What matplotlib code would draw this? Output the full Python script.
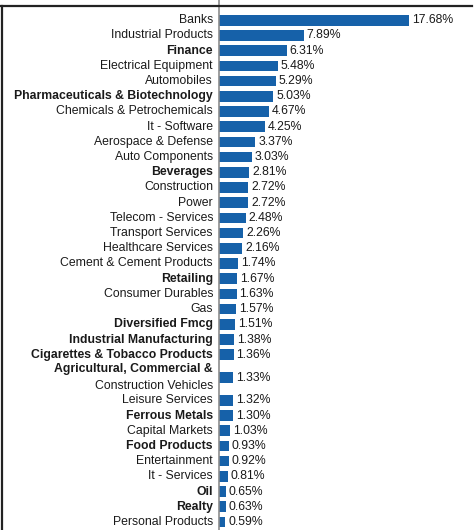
import numpy as np
import matplotlib.pyplot as plt
from matplotlib.lines import Line2D
from matplotlib.transforms import offset_copy

sectors = [
    "Banks", "Industrial Products", "Finance", "Electrical Equipment",
    "Automobiles", "Pharmaceuticals & Biotechnology",
    "Chemicals & Petrochemicals", "It - Software", "Aerospace & Defense",
    "Auto Components", "Beverages", "Construction", "Power",
    "Telecom - Services", "Transport Services", "Healthcare Services",
    "Cement & Cement Products", "Retailing", "Consumer Durables", "Gas",
    "Diversified Fmcg", "Industrial Manufacturing",
    "Cigarettes & Tobacco Products",
    "Agricultural, Commercial &\nConstruction Vehicles",
    "Leisure Services", "Ferrous Metals", "Capital Markets", "Food Products",
    "Entertainment", "It - Services", "Oil", "Realty", "Personal Products",
]
weights = [
    17.68, 7.89, 6.31, 5.48, 5.29, 5.03, 4.67, 4.25, 3.37, 3.03, 2.81,
    2.72, 2.72, 2.48, 2.26, 2.16, 1.74, 1.67, 1.63, 1.57, 1.51, 1.38,
    1.36, 1.33, 1.32, 1.30, 1.03, 0.93, 0.92, 0.81, 0.65, 0.63, 0.59,
]
bold = [
    False, False, True, False, False, True, False, False, False, False, True,
    False, False, False, False, False, False, True, False, False, True, True,
    True, True, False, True, False, True, False, False, True, True, False,
]

W, H = 474, 530
BLUE = "#1661a9"
TXT = "#1a1a1a"
FS = 8.8

plt.rcParams["font.family"] = ["Liberation Sans", "DejaVu Sans"]

# two-line labels get a double-height row
rows = [1 if s.count("\n") == 0 else 2 for s in sectors]
edges = np.concatenate([[0], np.cumsum(rows)])
pos = edges[:-1] + np.array(rows) / 2 - 0.5

fig = plt.figure(figsize=(W / 100, H / 100), dpi=100)
left_px = 219
ax = fig.add_axes([left_px / W, 0, 1 - left_px / W, 1])

pitch = 15.2
top_px = 20.3
ax.set_ylim((H - top_px) / pitch, -top_px / pitch)
ax.set_xlim(0, max(weights) * (W - left_px) / 190)

ax.barh(pos, weights, height=0.69, color=BLUE)

for s in ["top", "right", "bottom"]:
    ax.spines[s].set_visible(False)
ax.spines["left"].set_color("#8c8c8c")
ax.spines["left"].set_linewidth(1.2)
ax.set_xticks([])
ax.set_yticks([])

lab_tr = offset_copy(ax.transData, fig=fig, x=-6, y=0, units="dots")
val_tr = offset_copy(ax.transData, fig=fig, x=3, y=0, units="dots")
for p, s, w, b in zip(pos, sectors, weights, bold):
    lines = s.split("\n")
    n = len(lines)
    for k, line in enumerate(lines):
        dy = (k - (n - 1) / 2) * 1.06
        ax.text(0, p + dy, line, transform=lab_tr, ha="right", va="center",
                fontsize=FS, color=TXT,
                fontweight="bold" if (b and k == 0) else "normal",
                clip_on=False)
    ax.text(w, p, f"{w:.2f}%", transform=val_tr, ha="left", va="center",
            fontsize=FS, color=TXT, clip_on=False)

# frame lines along the top and left edge
fig.add_artist(Line2D([0, 472 / W], [1 - 6 / H, 1 - 6 / H],
                      transform=fig.transFigure, color="#222222", lw=1.6))
fig.add_artist(Line2D([1.5 / W, 1.5 / W], [0, 1 - 6 / H],
                      transform=fig.transFigure, color="#222222", lw=1.6))

fig.savefig("out.png", dpi=100)
